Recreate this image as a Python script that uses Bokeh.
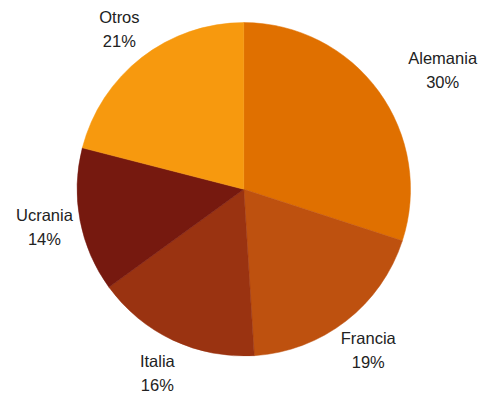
import math
from bokeh.plotting import figure
from bokeh.models import ColumnDataSource, Range1d
from bokeh.core.properties import value
from bokeh.embed import file_html
from bokeh.resources import INLINE

# Data
countries = ["Alemania", "Francia", "Italia", "Ucrania", "Otros"]
shares = [30, 19, 16, 14, 21]
colors = ["#E07000", "#BE510F", "#9A3311", "#76190F", "#F7990E"]

# Layout (pixels)
W, H = 481, 393
CX, CY = 243.3, 204.2
R = 166.7
LABEL_R = 203
# per-label nudges (angle deg, radius)
LABEL_NUDGE = {"Alemania": (-5.0, 29.0)}

total = sum(shares)
starts, ends, mids = [], [], []
a = math.pi / 2
for s in shares:
    span = 2 * math.pi * s / total
    starts.append(a - span)
    ends.append(a)
    mids.append(a - span / 2)
    a -= span

lx, ly1, ly2, names, pcts = [], [], [], [], []
for c, s, m in zip(countries, shares, mids):
    da, dr = LABEL_NUDGE.get(c, (0.0, 0.0))
    ang = m + math.radians(da)
    rr = LABEL_R + dr
    x = CX + rr * math.cos(ang)
    y = CY + rr * math.sin(ang)
    lx.append(x)
    ly1.append(y + 12)
    ly2.append(y - 12)
    names.append(c)
    pcts.append(f"{s}%")

src = ColumnDataSource(dict(start=starts, end=ends, color=colors,
                            x=[CX] * len(shares), y=[CY] * len(shares)))
lab = ColumnDataSource(dict(x=lx, y1=ly1, y2=ly2, name=names, pct=pcts))

p = figure(width=W, height=H, output_backend="svg", toolbar_location=None,
           x_range=Range1d(0, W), y_range=Range1d(0, H), min_border=0)
p.axis.visible = False
p.grid.visible = False
p.outline_line_color = None
p.background_fill_color = "white"
p.border_fill_color = "white"

p.wedge(x="x", y="y", radius=R, radius_units="screen", start_angle="start",
        end_angle="end", fill_color="color", line_color="color", line_width=0.5,
        source=src)

for col, yc in (("name", "y1"), ("pct", "y2")):
    p.text(x="x", y=yc, text=col, source=lab, text_align="center",
           text_baseline="alphabetic", text_font=value("Liberation Sans"),
           text_font_size="16.5px", text_color="#222222")

open("out.html", "w").write(file_html(p, INLINE))
